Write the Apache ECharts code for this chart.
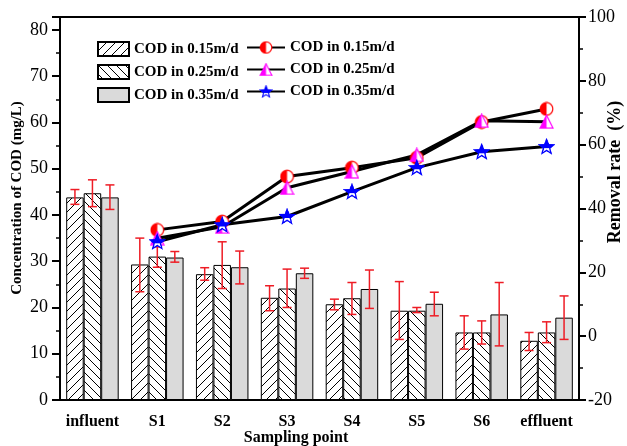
<!DOCTYPE html>
<html>
<head>
<meta charset="utf-8">
<script src="https://cdn.jsdelivr.net/npm/echarts@6/dist/echarts.min.js"></script>
<style>
html,body{margin:0;padding:0;background:#fff;}
#chart{width:627px;height:446px;}
</style>
</head>
<body>
<div id="chart"></div>
<script>
// ---------- DATA ----------
const categories = ['influent', 'S1', 'S2', 'S3', 'S4', 'S5', 'S6', 'effluent'];
const seriesLabels = ['COD in 0.15m/d', 'COD in 0.25m/d', 'COD in 0.35m/d'];

// COD concentration (mg/L) bars
const cod015 = [43.8, 29.3, 27.2, 22.1, 20.7, 19.3, 14.6, 12.8];
const cod025 = [44.7, 31.0, 29.2, 24.1, 22.0, 19.3, 14.6, 14.6];
const cod035 = [43.8, 30.8, 28.7, 27.4, 24.0, 20.8, 18.5, 17.8];

// error bar bounds
const cod015Low  = [42.3, 23.4, 25.9, 19.3, 19.5, 13.1, 11.0, 10.7];
const cod015High = [45.5, 35.0, 28.6, 24.7, 21.8, 25.6, 18.2, 14.6];
const cod025Low  = [41.8, 28.7, 24.1, 20.0, 18.5, 18.9, 12.1, 12.4];
const cod025High = [47.6, 33.1, 34.2, 28.3, 25.4, 20.0, 17.1, 16.9];
const cod035Low  = [41.2, 29.8, 25.1, 26.3, 19.8, 18.2, 11.7, 13.1];
const cod035High = [46.5, 32.1, 32.2, 28.5, 28.1, 23.3, 25.4, 22.5];

// Removal rate (%) lines
const rate015 = [null, 33.3, 35.9, 50.0, 52.8, 55.9, 67.1, 71.2];
const rate025 = [null, 30.7, 34.3, 46.5, 51.6, 56.8, 67.5, 67.2];
const rate035 = [null, 29.6, 34.9, 37.5, 45.3, 52.8, 57.8, 59.4];

// ---------- STYLE HELPERS ----------
const SERIF = '"Liberation Serif", "Times New Roman", serif';
const BAR_W = 17.5;

function hatch(dir) {
  const s = 9;
  const c = document.createElement('canvas');
  c.width = s; c.height = s;
  const g = c.getContext('2d');
  g.fillStyle = '#fff'; g.fillRect(0, 0, s, s);
  g.strokeStyle = '#000'; g.lineWidth = 1;
  g.beginPath();
  if (dir === 'f') {
    for (let k = -1; k <= 1; k++) { g.moveTo(k * s - 1, s + 1); g.lineTo(k * s + s + 1, -1); }
  } else {
    for (let k = -1; k <= 1; k++) { g.moveTo(k * s - 1, -1); g.lineTo(k * s + s + 1, s + 1); }
  }
  g.stroke();
  return c;
}

function markerImg(type) {
  const S = 30;
  const c = document.createElement('canvas');
  c.width = S; c.height = S;
  const g = c.getContext('2d');
  g.lineJoin = 'miter';
  if (type === 'circle') {
    g.beginPath(); g.arc(15, 15, 12.5, 0, Math.PI * 2); g.fillStyle = '#fff'; g.fill();
    g.beginPath(); g.moveTo(15, 15); g.arc(15, 15, 12.5, Math.PI / 2, Math.PI * 1.5); g.closePath();
    g.fillStyle = '#ff0000'; g.fill();
    g.beginPath(); g.arc(15, 15, 12.5, 0, Math.PI * 2); g.strokeStyle = '#ff0000'; g.lineWidth = 2.4; g.stroke();
  } else if (type === 'triangle') {
    g.beginPath(); g.moveTo(15, 2); g.lineTo(2, 28); g.lineTo(28, 28); g.closePath();
    g.fillStyle = '#fff'; g.fill();
    g.beginPath(); g.moveTo(15, 2); g.lineTo(2, 28); g.lineTo(15, 28); g.closePath();
    g.fillStyle = '#ff00ff'; g.fill();
    g.beginPath(); g.moveTo(15, 2); g.lineTo(2, 28); g.lineTo(28, 28); g.closePath();
    g.strokeStyle = '#ff00ff'; g.lineWidth = 2.4; g.stroke();
  } else {
    const pts = [];
    for (let i = 0; i < 10; i++) {
      const r = i % 2 === 0 ? 13.5 : 5.8;
      const a = -Math.PI / 2 + i * Math.PI / 5;
      pts.push([15 + r * Math.cos(a), 16 + r * Math.sin(a)]);
    }
    const path = () => { g.beginPath(); pts.forEach((p, i) => i ? g.lineTo(p[0], p[1]) : g.moveTo(p[0], p[1])); g.closePath(); };
    path(); g.fillStyle = '#fff'; g.fill();
    g.save(); g.beginPath(); g.rect(0, 0, S, 18); g.clip();
    path(); g.fillStyle = '#0000ff'; g.fill(); g.restore();
    path(); g.strokeStyle = '#0000ff'; g.lineWidth = 2.4; g.stroke();
  }
  return 'image://' + c.toDataURL();
}

const patF = { image: hatch('f'), repeat: 'repeat' };
const patB = { image: hatch('b'), repeat: 'repeat' };

const lowArr = [cod015Low, cod025Low, cod035Low];
const highArr = [cod015High, cod025High, cod035High];
const errData = [];
for (let s = 0; s < 3; s++) {
  for (let i = 0; i < categories.length; i++) {
    errData.push([i, s, lowArr[s][i], highArr[s][i]]);
  }
}

const nameMap = { b1: seriesLabels[0], b2: seriesLabels[1], b3: seriesLabels[2], l1: seriesLabels[0], l2: seriesLabels[1], l3: seriesLabels[2] };

const chart = echarts.init(document.getElementById('chart'), null, { renderer: 'canvas' });

const legendText = { fontFamily: SERIF, fontWeight: 'bold', fontSize: 15, color: '#000' };

const option = {
  animation: false,
  backgroundColor: '#fff',
  grid: { left: 60, right: 48, top: 17, bottom: 46, show: true, borderColor: '#000', borderWidth: 2, backgroundColor: 'transparent' },
  legend: [
    {
      data: ['b1', 'b2', 'b3'], orient: 'vertical', left: 92, top: 36, itemWidth: 31, itemHeight: 14, itemGap: 7,
      icon: 'rect', formatter: n => nameMap[n], textStyle: legendText, selectedMode: false
    },
    {
      data: ['l1', 'l2', 'l3'], orient: 'vertical', left: 241, top: 35, itemWidth: 38, itemHeight: 17, itemGap: 7,
      formatter: n => nameMap[n], textStyle: legendText, selectedMode: false
    }
  ],
  xAxis: {
    type: 'category', data: categories,
    axisLine: { lineStyle: { color: '#000', width: 2 } },
    axisTick: { alignWithLabel: true, length: 7, lineStyle: { color: '#000', width: 2 } },
    axisLabel: { interval: 0, fontFamily: SERIF, fontWeight: 'bold', fontSize: 16, color: '#000', margin: 14 },
    splitLine: { show: false }
  },
  yAxis: [
    {
      type: 'value', min: 0, max: 82.8, interval: 10, position: 'left',
      axisLine: { show: true, lineStyle: { color: '#000', width: 2 } },
      axisTick: { show: true, length: 8, lineStyle: { color: '#000', width: 2 } },
      minorTick: { show: true, splitNumber: 2, length: 4, lineStyle: { color: '#000', width: 1.5 } },
      axisLabel: { fontFamily: SERIF, fontSize: 18, color: '#000', margin: 12, formatter: v => (v % 10 === 0 ? String(v) : '') },
      splitLine: { show: false }
    },
    {
      type: 'value', min: -20, max: 100, interval: 20, position: 'right',
      axisLine: { show: true, lineStyle: { color: '#000', width: 2 } },
      axisTick: { show: true, length: 7, lineStyle: { color: '#000', width: 2 } },
      minorTick: { show: true, splitNumber: 2, length: 4, lineStyle: { color: '#000', width: 1.5 } },
      axisLabel: { fontFamily: SERIF, fontSize: 18, color: '#000', margin: 9 },
      splitLine: { show: false }
    }
  ],
  graphic: [
    { type: 'text', x: 17, y: 198, rotation: Math.PI / 2,
      style: { text: 'Concentration of COD (mg/L)', font: 'bold 15px ' + SERIF, fill: '#000', align: 'center', verticalAlign: 'middle' } },
    { type: 'text', x: 615, y: 172, rotation: Math.PI / 2,
      style: { text: 'Removal rate  (%)', font: 'bold 18px ' + SERIF, fill: '#000', align: 'center', verticalAlign: 'middle' } },
    { type: 'text', x: 296, y: 438,
      style: { text: 'Sampling point', font: 'bold 16px ' + SERIF, fill: '#000', align: 'center', verticalAlign: 'middle' } }
  ],
  series: [
    { name: 'b1', type: 'bar', data: cod015, barWidth: BAR_W, barGap: '0%', z: 2,
      itemStyle: { color: patF, borderColor: '#000', borderWidth: 1 } },
    { name: 'b2', type: 'bar', data: cod025, barWidth: BAR_W, barGap: '0%', z: 2,
      itemStyle: { color: patB, borderColor: '#000', borderWidth: 1 } },
    { name: 'b3', type: 'bar', data: cod035, barWidth: BAR_W, barGap: '0%', z: 2,
      itemStyle: { color: '#dadada', borderColor: '#000', borderWidth: 1 } },
    {
      name: 'err', type: 'custom', data: errData, z: 3, xAxisIndex: 0, yAxisIndex: 0,
      encode: { x: 0, y: [2, 3] },
      renderItem: function (params, api) {
        const cat = api.value(0), s = api.value(1);
        const lo = api.coord([cat, api.value(2)]);
        const hi = api.coord([cat, api.value(3)]);
        const x = lo[0] + (s - 1) * BAR_W;
        const cap = 4.5;
        const st = { stroke: '#ee1c25', lineWidth: 1.5 };
        return {
          type: 'group',
          children: [
            { type: 'line', shape: { x1: x, y1: lo[1], x2: x, y2: hi[1] }, style: st },
            { type: 'line', shape: { x1: x - cap, y1: lo[1], x2: x + cap, y2: lo[1] }, style: st },
            { type: 'line', shape: { x1: x - cap, y1: hi[1], x2: x + cap, y2: hi[1] }, style: st }
          ]
        };
      }
    },
    { name: 'l1', type: 'line', yAxisIndex: 1, data: rate015, z: 5, symbol: markerImg('circle'), symbolSize: 15,
      lineStyle: { color: '#000', width: 3 }, itemStyle: { color: '#000' } },
    { name: 'l2', type: 'line', yAxisIndex: 1, data: rate025, z: 5, symbol: markerImg('triangle'), symbolSize: 15,
      lineStyle: { color: '#000', width: 3 }, itemStyle: { color: '#000' } },
    { name: 'l3', type: 'line', yAxisIndex: 1, data: rate035, z: 5, symbol: markerImg('star'), symbolSize: 17,
      lineStyle: { color: '#000', width: 3 }, itemStyle: { color: '#000' } }
  ]
};
chart.setOption(option);
</script>
</body>
</html>
